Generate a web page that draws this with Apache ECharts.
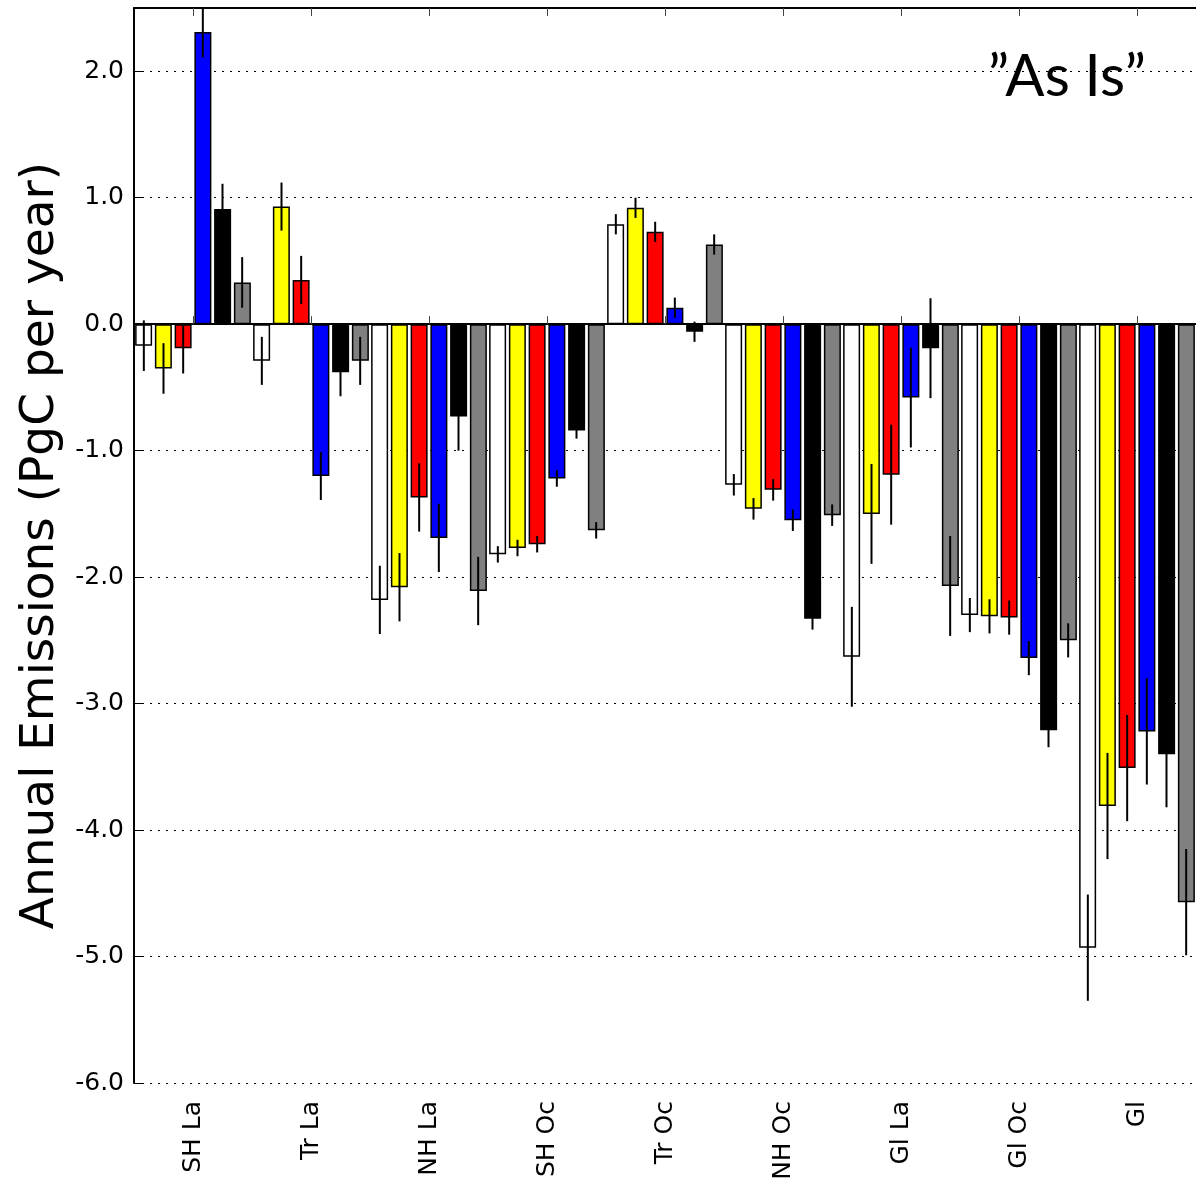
<!DOCTYPE html>
<html>
<head>
<meta charset="utf-8">
<script src="https://cdn.jsdelivr.net/npm/echarts@6/dist/echarts.min.js"></script>
<style>
html,body{margin:0;padding:0;background:#fff;}
#chart{width:1196px;height:1183px;}
</style>
</head>
<body>
<div id="chart"></div>
<script>
// Categories (regions)
var categories = ['SH La', 'Tr La', 'NH La', 'SH Oc', 'Tr Oc', 'NH Oc', 'Gl La', 'Gl Oc', 'Gl'];

// Series values (PgC per year), six bars per region
var whiteVals  = [-0.17, -0.29, -2.18, -1.82, 0.79, -1.27, -2.63, -2.30, -4.93];
var yellowVals = [-0.35,  0.93, -2.08, -1.77, 0.92, -1.46, -1.50, -2.31, -3.81];
var redVals    = [-0.19,  0.35, -1.37, -1.74, 0.73, -1.31, -1.19, -2.32, -3.51];
var blueVals   = [ 2.31, -1.20, -1.69, -1.22, 0.13, -1.55, -0.58, -2.64, -3.22];
var blackVals  = [ 0.91, -0.38, -0.73, -0.84, -0.06, -2.33, -0.19, -3.21, -3.40];
var grayVals   = [ 0.33, -0.29, -2.11, -1.63, 0.63, -1.51, -2.07, -2.50, -4.57];

// Error half-widths per region (same for all bars within a region)
var groupErrors = [0.20, 0.19, 0.27, 0.065, 0.08, 0.085, 0.395, 0.135, 0.42];

// Y axis ticks
var yMin = -6, yMax = 2.5, yStep = 1;

var seriesList = [
  {name: 'white',  vals: whiteVals,  color: '#ffffff'},
  {name: 'yellow', vals: yellowVals, color: '#ffff00'},
  {name: 'red',    vals: redVals,    color: '#ff0000'},
  {name: 'blue',   vals: blueVals,   color: '#0000ff'},
  {name: 'black',  vals: blackVals,  color: '#000000'},
  {name: 'gray',   vals: grayVals,   color: '#808080'}
];
var nS = seriesList.length;

var series = [];
seriesList.forEach(function (s, si) {
  series.push({
    name: s.name,
    type: 'bar',
    xAxisIndex: 0,
    yAxisIndex: 0,
    data: s.vals,
    barWidth: 17,
    barGap: '16.18%',
    itemStyle: {color: s.color, borderColor: '#000', borderWidth: 1.5},
    emphasis: {disabled: true},
    animation: false,
    z: 2
  });
});
seriesList.forEach(function (s, si) {
  var errData = s.vals.map(function (v, i) {
    return [i, v - groupErrors[i], v + groupErrors[i]];
  });
  series.push({
    name: s.name + ' err',
    type: 'custom',
    xAxisIndex: 0,
    yAxisIndex: 0,
    data: errData,
    clip: true,
    z: 5,
    animation: false,
    renderItem: function (params, api) {
      var c = api.value(0), lo = api.value(1), hi = api.value(2);
      var catW = api.size([1, 0])[0];
      var off = (si - (nS - 1) / 2) * catW / nS;
      var p1 = api.coord([c, hi]);
      var p2 = api.coord([c, lo]);
      return {
        type: 'line',
        shape: {x1: p1[0] + off, y1: p1[1], x2: p1[0] + off, y2: p2[1]},
        style: {stroke: '#000', lineWidth: 2}
      };
    }
  });
});

var chart = echarts.init(document.getElementById('chart'), null, {renderer: 'canvas'});
chart.setOption({
  backgroundColor: '#ffffff',
  animation: false,
  title: {
    text: '\u201DAs Is\u201D',
    left: 983,
    top: 43,
    textStyle: {fontFamily: 'Lato', fontSize: 58, fontWeight: 'normal', color: '#000'}
  },
  grid: {left: 134, top: 8, width: 1066.5, height: 1075, containLabel: false},
  xAxis: [{
    type: 'category',
    data: categories,
    position: 'bottom',
    boundaryGap: true,
    axisLine: {show: true, lineStyle: {color: '#000', width: 2}},
    axisTick: {show: true, inside: true, alignWithLabel: true, length: 8, lineStyle: {color: '#444', width: 1}},
    axisLabel: {rotate: 90, margin: 18, fontFamily: 'DejaVu Sans', fontSize: 25, color: '#000'},
    splitLine: {show: false}
  }, {
    type: 'category',
    data: categories,
    position: 'top',
    boundaryGap: true,
    axisLine: {show: true, lineStyle: {color: '#000', width: 2}},
    axisTick: {show: true, inside: true, alignWithLabel: true, length: 8, lineStyle: {color: '#444', width: 1}},
    axisLabel: {show: false},
    splitLine: {show: false}
  }],
  yAxis: [{
    type: 'value',
    min: yMin,
    max: yMax,
    interval: yStep,
    name: 'Annual Emissions (PgC per year)',
    nameLocation: 'middle',
    nameRotate: 90,
    nameGap: 68,
    nameTextStyle: {fontFamily: 'DejaVu Sans', fontSize: 47, color: '#000'},
    axisLine: {show: true, lineStyle: {color: '#000', width: 2}},
    axisTick: {show: true, inside: true, length: 8, lineStyle: {color: '#000', width: 1}},
    axisLabel: {
      margin: 10,
      showMaxLabel: false,
      fontFamily: 'DejaVu Sans', fontSize: 25, color: '#000',
      formatter: function (v) { return v.toFixed(1); }
    },
    splitLine: {show: true, lineStyle: {color: '#000', width: 1, type: [2, 6]}}
  }],
  series: series
});
</script>
</body>
</html>
